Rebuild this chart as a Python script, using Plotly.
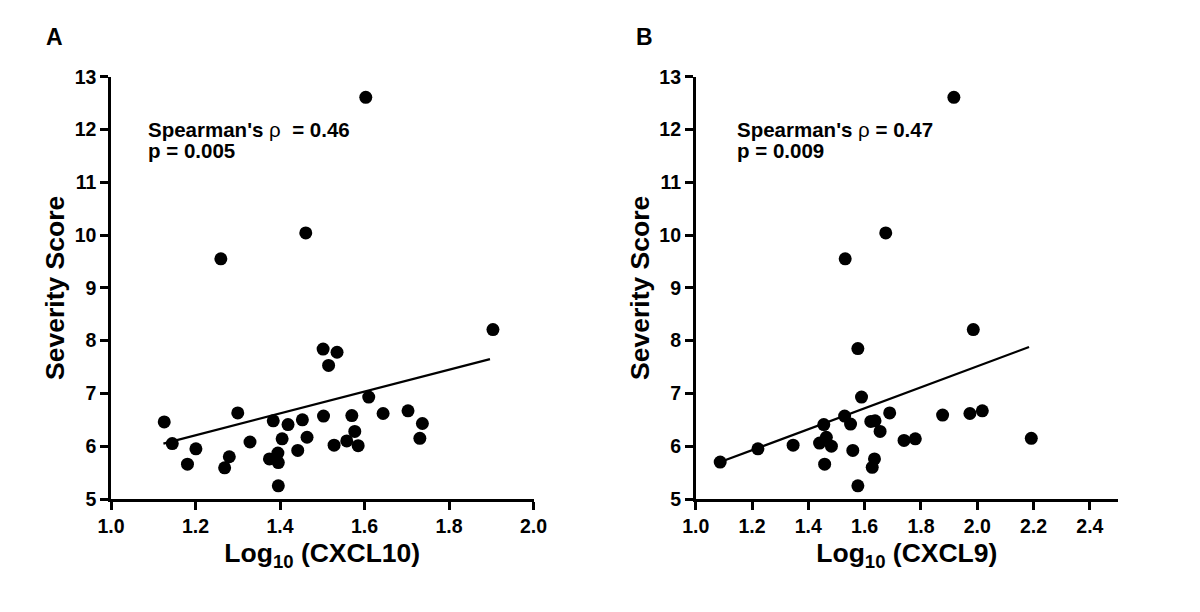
import plotly.graph_objects as go

# Panel A: Log10(CXCL10) vs Severity Score
a_x = [1.126, 1.145, 1.181, 1.201, 1.269, 1.280, 1.300, 1.329, 1.375, 1.384, 1.395, 1.396,
       1.396, 1.405, 1.419, 1.442, 1.453, 1.464, 1.502, 1.503, 1.515, 1.535, 1.528, 1.558,
       1.570, 1.577, 1.585, 1.610, 1.644, 1.703, 1.731, 1.737, 1.904, 1.603, 1.461, 1.260]
a_y = [6.46, 6.05, 5.66, 5.95, 5.59, 5.80, 6.63, 6.08, 5.76, 6.48, 5.87, 5.69,
       5.25, 6.14, 6.41, 5.92, 6.50, 6.17, 7.84, 6.57, 7.53, 7.78, 6.02, 6.10,
       6.58, 6.28, 6.01, 6.93, 6.62, 6.67, 6.15, 6.43, 8.21, 12.61, 10.04, 9.55]
a_fit_x = [1.124, 1.897]
a_fit_y = [6.05, 7.65]

# Panel B: Log10(CXCL9) vs Severity Score
b_x = [1.087, 1.221, 1.346, 1.440, 1.455, 1.458, 1.464, 1.482, 1.529, 1.550, 1.558, 1.576,
       1.576, 1.589, 1.622, 1.637, 1.627, 1.635, 1.655, 1.689, 1.740, 1.780, 1.877, 1.974,
       2.018, 1.986, 2.192, 1.917, 1.675, 1.531]
b_y = [5.70, 5.95, 6.02, 6.06, 6.41, 5.66, 6.17, 6.00, 6.57, 6.42, 5.92, 7.85,
       5.25, 6.93, 6.47, 6.48, 5.60, 5.76, 6.28, 6.63, 6.11, 6.14, 6.59, 6.62,
       6.67, 8.21, 6.15, 12.61, 10.04, 9.55]
b_fit_x = [1.087, 2.184]
b_fit_y = [5.70, 7.88]

y_ticks = [5, 6, 7, 8, 9, 10, 11, 12, 13]
a_x_ticks = [1.0, 1.2, 1.4, 1.6, 1.8, 2.0]
b_x_ticks = [1.0, 1.2, 1.4, 1.6, 1.8, 2.0, 2.2, 2.4]

FONT = "Liberation Sans, Arial, sans-serif"
W, H = 1200, 612
OFF = 8  # browser body margin


def px_x(v):
    return (v - OFF) / W


def px_y(v):
    return 1 - (v - OFF) / H


fig = go.Figure()
fig.add_trace(go.Scatter(x=a_x, y=a_y, mode="markers", marker=dict(color="black", size=13),
                         xaxis="x", yaxis="y", showlegend=False, cliponaxis=False))
fig.add_trace(go.Scatter(x=a_fit_x, y=a_fit_y, mode="lines", line=dict(color="black", width=2.2),
                         xaxis="x", yaxis="y", showlegend=False))
fig.add_trace(go.Scatter(x=b_x, y=b_y, mode="markers", marker=dict(color="black", size=13),
                         xaxis="x2", yaxis="y2", showlegend=False, cliponaxis=False))
fig.add_trace(go.Scatter(x=b_fit_x, y=b_fit_y, mode="lines", line=dict(color="black", width=2.2),
                         xaxis="x2", yaxis="y2", showlegend=False))

axis_common = dict(showgrid=False, zeroline=False, showline=True, linecolor="black", linewidth=2.5,
                   ticks="outside", ticklen=8, tickwidth=2.5, tickcolor="black",
                   tickfont=dict(family=FONT, size=19.5, color="black", weight="bold"),
                   automargin=False)
title_font = dict(family=FONT, size=26.5, color="black", weight="bold")

ydom = [px_y(499), px_y(76.7)]
fig.update_layout(
    width=W, height=H,
    paper_bgcolor="white", plot_bgcolor="white",
    margin=dict(l=0, r=0, t=0, b=0),
    xaxis=dict(domain=[px_x(111), px_x(533.5)], range=[1.0, 2.0], tickvals=a_x_ticks,
               ticktext=[f"{v:.1f}" for v in a_x_ticks], anchor="y",
               title=dict(text="Log<sub>10</sub> (CXCL10)", standoff=8, font=title_font),
               **axis_common),
    yaxis=dict(domain=ydom, range=[5, 13], tickvals=y_ticks, anchor="x",
               title=dict(text="Severity Score", standoff=3, font=title_font),
               **axis_common),
    xaxis2=dict(domain=[px_x(695.7), px_x(1118)], range=[1.0, 2.5], tickvals=b_x_ticks,
                ticktext=[f"{v:.1f}" for v in b_x_ticks], anchor="y2",
                title=dict(text="Log<sub>10</sub> (CXCL9)", standoff=8, font=title_font),
                **axis_common),
    yaxis2=dict(domain=ydom, range=[5, 13], tickvals=y_ticks, anchor="x2",
                title=dict(text="Severity Score", standoff=3, font=title_font),
                **axis_common),
)

ann_font = dict(family=FONT, size=20.5, color="black")
letter_font = dict(family=FONT, size=23, color="black")
fig.add_annotation(xref="paper", yref="paper", x=px_x(44), y=px_y(37), text="<b>A</b>",
                   showarrow=False, xanchor="left", yanchor="middle", font=letter_font)
fig.add_annotation(xref="paper", yref="paper", x=px_x(634), y=px_y(37), text="<b>B</b>",
                   showarrow=False, xanchor="left", yanchor="middle", font=letter_font)

for left, line1, line2 in [(146, "<b>Spearman's </b>ρ<b>\u00a0\u00a0= 0.46</b>", "<b>p = 0.005</b>"),
                           (735, "<b>Spearman's </b>ρ<b> = 0.47</b>", "<b>p = 0.009</b>")]:
    fig.add_annotation(xref="paper", yref="paper", x=px_x(left), y=px_y(116),
                       text=line1, showarrow=False, xanchor="left", yanchor="top",
                       align="left", font=ann_font)
    fig.add_annotation(xref="paper", yref="paper", x=px_x(left), y=px_y(137),
                       text=line2, showarrow=False, xanchor="left", yanchor="top",
                       align="left", font=ann_font)

fig.write_html("out.html")
